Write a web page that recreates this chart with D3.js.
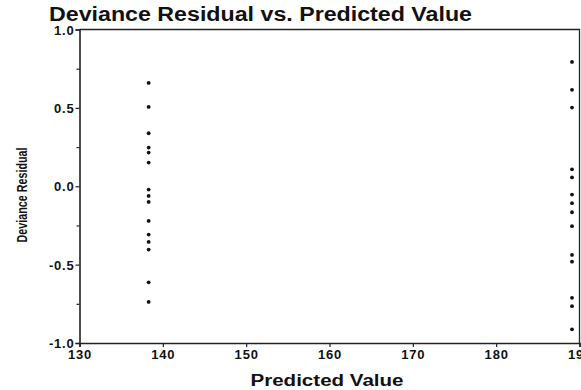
<!DOCTYPE html>
<html><head><meta charset="utf-8">
<script src="https://cdn.jsdelivr.net/npm/d3@7"></script>
<style>
html,body{margin:0;padding:0;background:#fff;}
text{font-family:"Liberation Sans",Arial,sans-serif;font-weight:bold;fill:#111;}
</style></head>
<body>
<svg id="c" width="581" height="390"></svg>
<script>
const leftX = [138.3];
const leftY = [0.659,0.506,0.338,0.247,0.215,0.151,-0.021,-0.062,-0.100,-0.221,-0.308,-0.355,-0.404,-0.613,-0.738];
const rightX = [189.1];
const rightY = [0.793,0.615,0.502,0.108,0.056,-0.053,-0.108,-0.166,-0.255,-0.438,-0.481,-0.712,-0.765,-0.913];
const xTicks = [130,140,150,160,170,180,190];
const yTicks = [-1.0,-0.5,0.0,0.5,1.0];
const yMinor = [-0.75,-0.25,0.25,0.75];
const title = "Deviance Residual vs. Predicted Value";
const xTitle = "Predicted Value";
const yTitle = "Deviance Residual";

const points = [];
leftY.forEach(v=>points.push({x:leftX[0],y:v}));
rightY.forEach(v=>points.push({x:rightX[0],y:v}));

const svg = d3.select("#c");
const m = {l:79.5,r:579.5,t:29.5,b:343};
const x = d3.scaleLinear().domain([130,190]).range([m.l,m.r]);
const y = d3.scaleLinear().domain([-1,1]).range([m.b,m.t]);
const fmtY = d => d3.format(".1f")(d).replace("\u2212","-");

svg.append("path").attr("d",`M${m.l},${m.t}H${m.r}V${m.b}`).attr("fill","none").attr("stroke","#222").attr("stroke-width",1.3);

const xa = svg.append("g").attr("transform",`translate(0,${m.b})`)
  .call(d3.axisBottom(x).tickValues(xTicks).tickFormat(d3.format("d")).tickSize(4).tickPadding(3));
const ya = svg.append("g").attr("transform",`translate(${m.l},0)`)
  .call(d3.axisLeft(y).tickValues(yTicks).tickFormat(fmtY).tickSize(4).tickPadding(1));
svg.append("g").attr("transform",`translate(${m.l},0)`)
  .call(d3.axisLeft(y).tickValues(yMinor).tickFormat("").tickSize(3))
  .call(g=>g.select(".domain").remove());
svg.selectAll(".domain").attr("stroke","#222").attr("stroke-width",1.6);
svg.selectAll(".tick line").attr("stroke","#222").attr("stroke-width",1.2);
xa.selectAll("text").attr("font-size",13).attr("letter-spacing","0.8px").attr("dy","0.72em");
ya.selectAll("text").attr("font-size",13).attr("letter-spacing","0.8px").attr("dy","0.35em");

svg.append("g").selectAll("circle").data(points).join("circle")
  .attr("cx",d=>x(d.x)).attr("cy",d=>y(d.y)).attr("r",1.9).attr("fill","#111");

svg.append("text").attr("x",49).attr("y",21).attr("font-size",20)
  .attr("textLength",423).attr("lengthAdjust","spacingAndGlyphs").text(title);
svg.append("text").attr("x",327).attr("y",386).attr("text-anchor","middle").attr("font-size",16)
  .attr("textLength",153).attr("lengthAdjust","spacingAndGlyphs").text(xTitle);
svg.append("text").attr("transform","translate(27,195) rotate(-90)").attr("text-anchor","middle")
  .attr("font-size",15).attr("textLength",95).attr("lengthAdjust","spacingAndGlyphs").text(yTitle);
</script>
</body></html>
